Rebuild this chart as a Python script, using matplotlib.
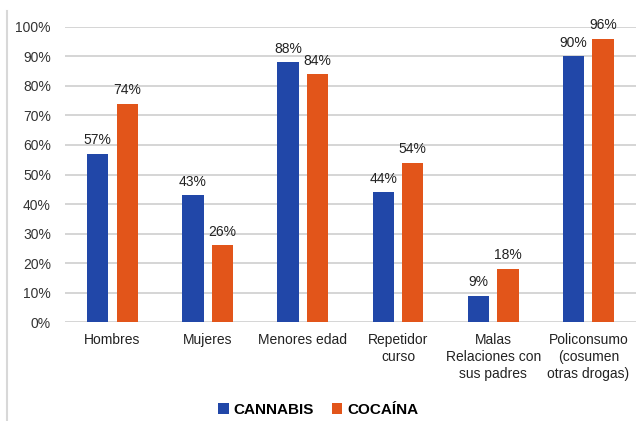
import matplotlib.pyplot as plt
from matplotlib.lines import Line2D
import numpy as np

categories = [
    "Hombres",
    "Mujeres",
    "Menores edad",
    "Repetidor\ncurso",
    "Malas\nRelaciones con\nsus padres",
    "Policonsumo\n(cosumen\notras drogas)",
]
cannabis = [57, 43, 88, 44, 9, 90]
cocaina = [74, 26, 84, 54, 18, 96]
series_names = ["CANNABIS", "COCAÍNA"]

blue = "#2147A8"
orange = "#E2551A"

plt.rcParams["font.family"] = ["Liberation Sans", "DejaVu Sans"]

fig = plt.figure(figsize=(6.36, 4.21), dpi=100)
ax = fig.add_axes([0.102, 0.235, 0.898, 0.701])

x = np.arange(len(categories))
w = 0.225
off = 0.155
b1 = ax.bar(x - off, cannabis, w, color=blue, zorder=3, label=series_names[0])
b2 = ax.bar(x + off, cocaina, w, color=orange, zorder=3, label=series_names[1])

for bars, vals in ((b1, cannabis), (b2, cocaina)):
    for bar, v in zip(bars, vals):
        ax.text(bar.get_x() + bar.get_width() / 2, v + 2.2, f"{v}%",
                ha="center", va="bottom", fontsize=10, color="#222222")

ax.set_xlim(-0.5, len(categories) - 0.5)
ax.set_ylim(0, 100)
ax.set_yticks(range(0, 101, 10))
ax.set_yticklabels([f"{t}%" for t in range(0, 101, 10)], fontsize=10, color="#333333")
ax.set_xticks(x)
ax.set_xticklabels(categories, fontsize=10, color="#222222", linespacing=1.25)
ax.tick_params(length=0, pad=8)
ax.tick_params(axis="y", pad=10)
ax.grid(axis="y", color="#D2D2D2", linewidth=1.3, zorder=0)
for s in ax.spines.values():
    s.set_visible(False)

fig.legend(handles=[b1, b2], labels=series_names, loc="center",
           bbox_to_anchor=(0.5, 0.027), ncol=2, frameon=False,
           prop={"weight": "bold", "size": 11}, handlelength=0.7,
           handleheight=0.7, handletextpad=0.3, columnspacing=1.2)

fig.add_artist(Line2D([0.011, 0.011], [0.0, 0.975], color="#D8D8D8", linewidth=1.5,
                      transform=fig.transFigure))

fig.savefig("out.png", dpi=100)
